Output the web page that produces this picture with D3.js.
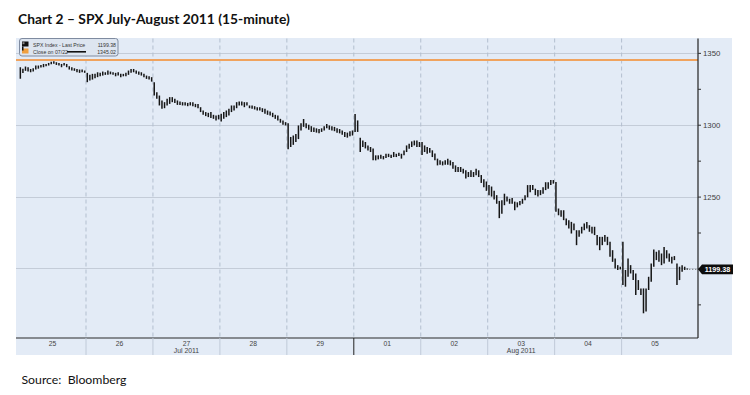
<!DOCTYPE html>
<html><head><meta charset="utf-8">
<script src="https://cdn.jsdelivr.net/npm/d3@7"></script>
<style>body{margin:0;background:#fff;} svg{display:block}</style>
</head><body>
<svg id="c" width="750" height="395"></svg>
<script>
// ---------------- data ----------------
const title = "Chart 2 – SPX July-August 2011 (15-minute)";
const source = "Source:  Bloomberg";
const dayLabels = ["25","26","27","28","29","01","02","03","04","05"];
const monthLabels = [["27","Jul 2011"],["03","Aug 2011"]];
const barsPerDay = 26;
// 15-minute bar highs (26 bars per day)
const high = [
 1340,1339,1340.5,1340,1338.8,1339.3,1341.2,1341.2,1341.6,1342.3,1342.3,1343,1343.9,1344.2,1343.5,1343,1342.3,1343,1342.3,1340.7,1340,1339.3,1338.8,1338.4,1338.4,1337.7,
 1336.1,1334.7,1335.4,1335.4,1336.5,1336.1,1337,1336.5,1337.7,1337,1336.5,1336.1,1336.5,1335.4,1335.4,1336.1,1337.7,1338.8,1338.8,1337.7,1337,1336.5,1335.4,1334.2,1333.7,1333.1,
 1329.6,1322.6,1320.3,1316.9,1315.7,1318,1319.2,1319.2,1318,1316.9,1316.1,1315.7,1315.7,1315.2,1315.7,1315.7,1314.5,1314.5,1312.2,1309.9,1308.8,1308.3,1308.8,1306.9,1306.4,1306.9,
 1307.6,1308.8,1309.9,1311.1,1313.4,1313.4,1315.7,1316.2,1316.2,1315.7,1315.7,1313.4,1313.4,1312.9,1312.2,1312.2,1311.5,1311.1,1309.9,1309.2,1308.3,1306.9,1306.5,1304.1,1303,1301.8,
 1301,1291.5,1292.5,1293.5,1299.5,1301,1304,1301,1300,1299,1298,1297.5,1297,1297.5,1299,1300.5,1299.5,1299,1298.5,1297.5,1297,1296,1295,1294.5,1295.5,1296,
 1307.5,1303,1291,1289,1288,1285.5,1284.5,1283.5,1278.7,1278.7,1279.1,1278.2,1279.8,1279.8,1279.1,1281,1279.8,1280.5,1279.8,1282,1285.6,1286.8,1288.4,1289,1289,1288,
 1288,1285.6,1284.5,1283.8,1282.2,1280,1276.4,1275.2,1274.5,1275.2,1276.4,1275.2,1274,1271.7,1270.6,1270.6,1269.4,1268.3,1267.1,1268.3,1267.1,1269.4,1268.3,1265,1262,1260.5,
 1258,1257,1254,1251,1247,1247.5,1252,1250,1248.5,1249,1246.5,1246,1247,1248.5,1251,1258,1258,1258,1255.5,1254.5,1254.5,1256.5,1260,1260,1261.5,1261.5,
 1260.2,1241.7,1240.5,1240.5,1234.7,1233.6,1232.4,1231.3,1226.6,1226.6,1229,1231.3,1232.4,1230.1,1229,1229,1223.2,1222,1222,1223.2,1222,1218.5,1212.7,1207,1202.3,1201.2,
 1218.5,1198.9,1207,1202.3,1198.9,1196.5,1191.9,1186.1,1186.1,1186.1,1194.2,1203.5,1213.2,1211.6,1212.7,1210.4,1215,1212.7,1210.4,1208.1,1208.6,1203.5,1201.2,1202.3,1201.2,1200
];
// 15-minute bar lows
const low = [
 1332,1336,1337.5,1337,1336.5,1337,1338.4,1339,1339.8,1340,1340.7,1341.2,1342.1,1342.5,1341.6,1341.2,1340,1341.2,1340,1338.4,1337.7,1337.5,1336.5,1336.1,1336.5,1336.1,
 1329.6,1330.7,1331.4,1332.4,1333.1,1333.7,1334.2,1334.7,1334.7,1335.1,1334.7,1333.7,1334.2,1333.1,1333.7,1333.7,1334.7,1336.1,1336.5,1335.4,1334.7,1334.2,1333.1,1331.9,1331.4,1330,
 1320.3,1318,1313.4,1311.1,1311.5,1313.4,1314.5,1315.7,1315.2,1313.8,1313.8,1313.4,1313.4,1312.9,1313.4,1312.9,1312.2,1311.5,1308.8,1306.9,1306,1305.3,1304.6,1304.1,1303,1303.7,
 1302.3,1304.1,1305.3,1306.4,1308.8,1309.9,1311.5,1313.4,1313.4,1312.2,1313.4,1311.5,1311.1,1310.6,1309.9,1309.9,1308.8,1307.6,1306.9,1306.5,1305.3,1304.1,1303,1301.4,1300,1299.5,
 1283,1284.5,1286,1288,1290,1296,1298.5,1297.5,1296.5,1295,1295,1294.5,1294,1295,1296,1297.5,1296.5,1296,1295.5,1294.5,1294,1293,1291.5,1291,1292,1292.5,
 1295,1295,1281,1284.5,1283.5,1282,1281,1275.3,1275.2,1275.9,1276.4,1275.9,1276.8,1277.5,1276.8,1277.5,1277.5,1278.2,1276.4,1278.7,1281,1283.3,1284.5,1285.6,1284.5,1284.5,
 1279,1281,1279.8,1280.5,1277.5,1275.2,1271.7,1272.2,1271.7,1272.2,1272.2,1271.7,1269.4,1267.1,1267.1,1267.1,1266,1262.5,1263.6,1263.6,1263.6,1264.8,1263.6,1259.5,1256.5,1254,
 1251,1250,1248,1245,1235,1238,1244,1246.5,1245,1245,1240.5,1242.5,1244,1245,1247.5,1249.5,1253,1254.5,1251,1250,1251,1252,1254.5,1255.5,1258,1259,
 1239.4,1237,1235.9,1233.6,1230.1,1227.8,1224.3,1226.6,1216.2,1222,1224.3,1226.6,1227.8,1225.5,1224.3,1223.2,1216.2,1212.7,1216.2,1218.5,1216.2,1208.1,1204.6,1200,1198.9,1199.3,
 1188.4,1187.3,1194.2,1196.5,1191.9,1181.5,1185,1181.5,1168.8,1170,1185,1190.8,1201.2,1205.8,1204.6,1202.3,1203.5,1207,1204.6,1203.5,1205.8,1188.4,1191.9,1197.7,1198.9,1199.38
];
const yMajorTicks = [1350,1300,1250,1200];
const yLabelTicks = [1350,1300,1250];   // 1200 label is hidden under the last-price tag
const yMinorTicks = [1325,1275,1225,1175];
const lastPrice = 1199.38;
const prevClose = 1345.02;
const legendRows = [["SPX Index - Last Price","1199.38"],["Close on 07/22","1345.02"]];

// ---------------- layout ----------------
const svg = d3.select("#c");
const plotL = 16, plotR = 698, plotT = 38.5, plotB = 338, bandB = 355, panelR = 732;
const bg = "#e3ebf6";

const x = d3.scaleBand().domain(dayLabels).range([19.05, 19.05 + 66.95*dayLabels.length]);
const xi = d3.scaleBand().domain(d3.range(barsPerDay)).range([0, x.bandwidth()]);
const y = d3.scaleLinear().domain([1151.6, 1360]).range([plotB, plotT]);
const barX = k => x(dayLabels[Math.floor(k/barsPerDay)]) + xi(k % barsPerDay) + xi.bandwidth()/2;

// panel backgrounds
svg.append("rect").attr("x",plotL).attr("y",plotT-0.5).attr("width",panelR-plotL).attr("height",bandB-plotT+0.5).attr("fill",bg);

// horizontal grid
svg.append("g").selectAll("line").data(yMajorTicks).join("line")
  .attr("x1",plotL).attr("x2",plotR).attr("y1",d=>Math.round(y(d))+0.5).attr("y2",d=>Math.round(y(d))+0.5)
  .attr("stroke","#c4ccd8").attr("stroke-width",1);

// vertical dashed day boundaries
const bounds = dayLabels.slice(1);
svg.append("g").selectAll("line").data(bounds).join("line")
  .attr("x1",d=>x(d)).attr("x2",d=>x(d)).attr("y1",plotT).attr("y2",plotB)
  .attr("stroke","#b3bfcf").attr("stroke-width",1).attr("stroke-dasharray","4,3");

// previous close line (orange)
svg.append("line").attr("x1",plotL).attr("x2",plotR).attr("y1",y(prevClose)).attr("y2",y(prevClose))
  .attr("stroke","#f0a35e").attr("stroke-width",2);

// bars
svg.append("g").selectAll("line").data(high.map((h,k)=>({h,l:low[k],k}))).join("line")
  .attr("x1",d=>barX(d.k)).attr("x2",d=>barX(d.k))
  .attr("y1",d=>y(d.h)).attr("y2",d=>Math.max(y(d.l), y(d.h)+1.2))
  .attr("stroke","#151515").attr("stroke-width",1.5);

// dotted link from last bar to axis
svg.append("line").attr("x1",barX(high.length-1)+2).attr("x2",plotR).attr("y1",y(lastPrice)).attr("y2",y(lastPrice))
  .attr("stroke","#555").attr("stroke-width",1).attr("stroke-dasharray","1,2");

// bottom border
svg.append("line").attr("x1",plotL).attr("x2",plotR).attr("y1",plotB).attr("y2",plotB).attr("stroke","#2a2a2a").attr("stroke-width",1.2);

// right axis
const yAxis = d3.axisRight(y).tickValues(yMajorTicks.concat(yMinorTicks)).tickSize(3).tickPadding(2)
  .tickFormat(d => yLabelTicks.includes(d) ? d3.format("d")(d) : "");
const ax = svg.append("g").attr("transform",`translate(${plotR},0)`).call(yAxis);
ax.select(".domain").attr("stroke","#222").attr("stroke-width",1.2).attr("d",`M0,${plotT}V${plotB}`);
ax.selectAll(".tick line").attr("stroke","#333");
ax.selectAll(".tick text").attr("font-family","Liberation Sans, Arial, sans-serif").attr("font-size",7.8).attr("fill","#404040");

// label band separators
svg.append("g").selectAll("line").data(bounds).join("line")
  .attr("x1",d=>x(d)).attr("x2",d=>x(d)).attr("y1",plotB).attr("y2",bandB)
  .attr("stroke",d=> d==="01" ? "#222" : "#c0cad8").attr("stroke-width",1);
svg.append("g").selectAll("text").data(dayLabels).join("text")
  .attr("x",d=>x(d)+x.bandwidth()/2).attr("y",345.5).attr("text-anchor","middle")
  .attr("font-family","Liberation Sans, Arial, sans-serif").attr("font-size",6.8).attr("fill","#444").text(d=>d);
svg.append("g").selectAll("text").data(monthLabels).join("text")
  .attr("x",d=>x(d[0])+x.bandwidth()/2).attr("y",352.5).attr("text-anchor","middle")
  .attr("font-family","Liberation Sans, Arial, sans-serif").attr("font-size",6.8).attr("fill","#444").text(d=>d[1]);

// last price tag
const ty = y(lastPrice);
svg.append("path").attr("d",`M${plotR},${ty}L${plotR+4},${ty-4.8}H${panelR+1}V${ty+4.8}H${plotR+4}Z`).attr("fill","#0d0d0d");
svg.append("text").attr("x",(plotR+4+panelR+1)/2).attr("y",ty+2.6).attr("text-anchor","middle")
  .attr("font-family","Liberation Sans, Arial, sans-serif").attr("font-weight","bold").attr("font-size",7.2).attr("fill","#fff")
  .text(d3.format(".2f")(lastPrice));

// legend
const lg = svg.append("g");
lg.append("rect").attr("x",19.5).attr("y",38.5).attr("width",98.5).attr("height",17.5).attr("rx",2.5)
  .attr("fill","#dde5f0").attr("stroke","#7f8ba0").attr("stroke-width",1);
lg.append("rect").attr("x",22).attr("y",41.5).attr("width",6.5).attr("height",5).attr("fill","#111");
lg.append("rect").attr("x",22.5).attr("y",42.2).attr("width",2).attr("height",2).attr("fill","#888");
lg.append("rect").attr("x",22).attr("y",48.5).attr("width",6.5).attr("height",5).attr("fill","#f0a040");
lg.append("rect").attr("x",22).attr("y",46.5).attr("width",1.5).attr("height",4).attr("fill","#111");
lg.selectAll("text.l").data(legendRows).join("text").attr("class","l")
  .attr("x",33).attr("y",(d,i)=>46.8+i*6.8)
  .attr("font-family","Liberation Sans, Arial, sans-serif").attr("font-size",5.2).attr("fill","#333").text(d=>d[0]);
lg.selectAll("text.v").data(legendRows).join("text").attr("class","v")
  .attr("x",116).attr("y",(d,i)=>46.8+i*6.8).attr("text-anchor","end")
  .attr("font-family","Liberation Sans, Arial, sans-serif").attr("font-size",5.2).attr("fill","#333").text(d=>d[1]);
lg.append("line").attr("x1",67).attr("x2",86).attr("y1",51.8).attr("y2",51.8).attr("stroke","#111").attr("stroke-width",1.6);

// title & source
function fit(sel, w){ const n=sel.node(); const cur=n.getComputedTextLength(); const fs=+sel.attr("font-size"); sel.attr("font-size", fs*w/cur); }
const t = svg.append("text").attr("x",18).attr("y",23.5).attr("font-family","Lato, 'Open Sans', sans-serif")
  .attr("font-weight","bold").attr("font-size",14).attr("fill","#111").text(title);
fit(t, 272);
const s = svg.append("text").attr("x",21.5).attr("y",383.5).attr("font-family","Lato, 'Open Sans', sans-serif")
  .attr("font-size",12).attr("fill","#111").attr("xml:space","preserve").style("white-space","pre").text(source);
fit(s, 105);
</script>
</body></html>
